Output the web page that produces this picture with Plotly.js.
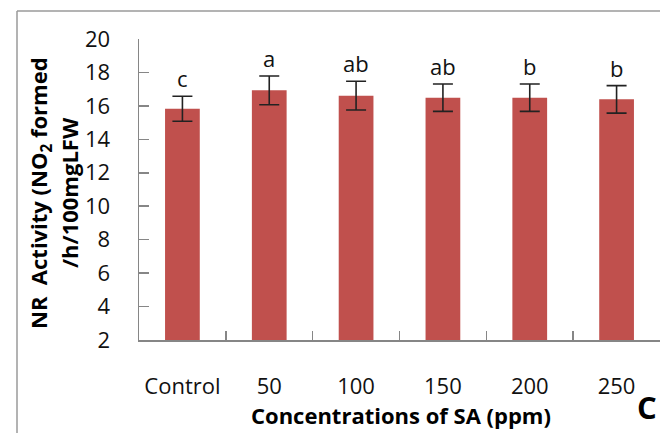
<!DOCTYPE html>
<html>
<head>
<meta charset="utf-8">
<script src="https://cdn.plot.ly/plotly-3.0.1.min.js"></script>
<style>html,body{margin:0;padding:0;overflow:hidden;background:#fff;}</style>
</head>
<body>
<div id="chart" style="width:660px;height:433px;"></div>
<script>
var categories = ["Control", "50", "100", "150", "200", "250"];
var values = [15.83, 16.93, 16.61, 16.49, 16.49, 16.39];
var errors = [0.75, 0.86, 0.86, 0.82, 0.82, 0.82];
var letters = ["c", "a", "ab", "ab", "b", "b"];
var yTicks = [2, 4, 6, 8, 10, 12, 14, 16, 18, 20];

var L = 139, R = 660, T = 39, B = 340;
function px(X) { return (X - L) / (R - L); }
function py(Y) { return (B - Y) / (B - T); }

var font = "Open Sans, Liberation Sans, sans-serif";

var annotations = categories.map(function (c, i) {
  return {
    x: i, y: values[i] + errors[i], xref: "x", yref: "y",
    text: letters[i], showarrow: false, yanchor: "bottom", yshift: 1,
    font: {family: font, size: 22, color: "#111"}
  };
});
annotations.push({
  xref: "paper", yref: "paper", x: px(40), y: py(193),
  text: "NR  Activity (NO<sub>2</sub> formed", textangle: -90,
  showarrow: false, xanchor: "center", yanchor: "middle",
  font: {family: font, size: 22, color: "#000", weight: "bold"}
});
annotations.push({
  xref: "paper", yref: "paper", x: px(69), y: py(193),
  text: "/h/100mgLFW", textangle: -90,
  showarrow: false, xanchor: "center", yanchor: "middle",
  font: {family: font, size: 22, color: "#000", weight: "bold"}
});
annotations.push({
  xref: "paper", yref: "paper", x: px(401), y: py(415),
  text: "Concentrations of SA (ppm)",
  showarrow: false, xanchor: "center", yanchor: "middle",
  font: {family: font, size: 22, color: "#000", weight: "bold"}
});
annotations.push({
  xref: "paper", yref: "paper", x: px(647), y: py(407),
  text: "C",
  showarrow: false, xanchor: "center", yanchor: "middle",
  font: {family: font, size: 31, color: "#000", weight: "bold"}
});

var trace = {
  type: "bar", x: categories, y: values, width: 0.4,
  marker: {color: "#C0504D", line: {width: 0}},
  error_y: {type: "data", array: errors, visible: true, color: "#222", thickness: 1.6, width: 10}
};

var layout = {
  width: 660, height: 433,
  margin: {l: L, r: 660 - R, t: T, b: 433 - B, pad: 0},
  paper_bgcolor: "#fff", plot_bgcolor: "#fff",
  showlegend: false,
  bargap: 0.6,
  xaxis: {
    type: "category", range: [-0.5, 5.5], showline: true, linecolor: "#868686", linewidth: 1.5,
    ticks: "inside", tickson: "boundaries", ticklen: 9, tickcolor: "#868686", tickwidth: 1.5,
    showgrid: false, zeroline: false, ticklabelstandoff: 26,
    tickfont: {family: font, size: 22, color: "#111"}
  },
  yaxis: {
    range: [2, 20], tickvals: yTicks, showline: true, linecolor: "#868686", linewidth: 1.5,
    ticks: "inside", ticklen: 10, tickcolor: "#868686", tickwidth: 1.5,
    showgrid: false, zeroline: false, ticklabelstandoff: 23,
    tickfont: {family: font, size: 22, color: "#111"}
  },
  annotations: annotations,
  shapes: [
    {type: "line", xref: "paper", yref: "paper", x0: px(17), x1: px(17), y0: py(433), y1: py(11),
     line: {color: "#9a9a9a", width: 1.5}},
    {type: "line", xref: "paper", yref: "paper", x0: px(17), x1: px(660), y0: py(11), y1: py(11),
     line: {color: "#9a9a9a", width: 1.5}}
  ]
};

Plotly.newPlot("chart", [trace], layout, {displayModeBar: false, staticPlot: true});
</script>
</body>
</html>
